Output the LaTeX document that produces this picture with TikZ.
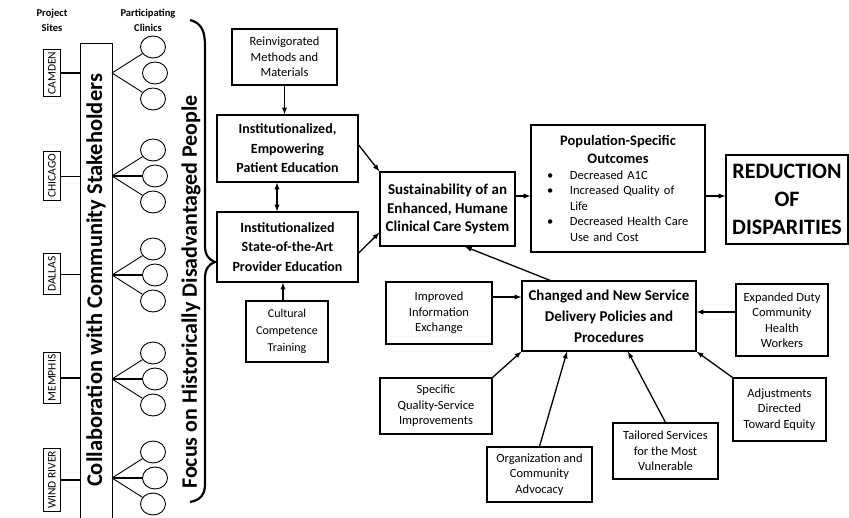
\documentclass[tikz,border=0pt]{standalone}
\usepackage{fontspec}
\setmainfont{Carlito}
\usepackage{tikz}
\usetikzlibrary{arrows,shapes.geometric}

\newcommand\fsz[2]{\fontsize{#1}{#2}\selectfont}
\newcommand\popline[2]{\par\noindent\hspace*{12pt}\makebox[23pt][l]{#1}#2}

\tikzset{
  smallbox/.style = {draw, line width=1.1, align=center, inner sep=2, font=\fsz{12.5}{15.5}},
  boldbox/.style = {draw, line width=1.3, align=center, inner sep=2, font=\bfseries\fsz{14}{19.5}},
  site/.style = {draw, line width=1, rotate=90, inner xsep=2.5, inner ysep=4.5, font=\fsz{11.5}{13}},
  clinic/.style = {draw, ellipse, line width=0.9, minimum width=25, minimum height=22, inner sep=0},
  arr/.style = {-latex, line width=1.3},
  thinline/.style = {line width=0.9},
  thickline/.style = {line width=2}
}

\begin{document}
\begin{tikzpicture}[x=1pt, y=-1pt]
				\useasboundingbox (0,0) rectangle (849,518);
				% left column: sites, stakeholders, clinics
				\node[align=center, font=\bfseries\fsz{10.5}{15}] (sitehead) at (52,20) {Project\\Sites};
				\node[align=center, font=\bfseries\fsz{10.5}{15}] (clinichead) at (148,20) {Participating\\Clinics};
				\node[draw, line width=0.9, rotate=90, minimum width=475, minimum height=32, inner sep=0, font=\bfseries\fsz{22.5}{26}] (collab) at (96,280.5) {Collaboration with Community Stakeholders};
				\node[site] (camden) at (52,73) {CAMDEN};
				\node[site] (chicago) at (52,176) {CHICAGO};
				\node[site] (dallas) at (52,274) {DALLAS};
				\node[site] (memphis) at (52,378) {MEMPHIS};
				\node[site] (windriver) at (52,480) {WIND RIVER};
				% rotated node: north is the left side
				\draw[thickline] (camden) -- (camden -| collab.north);
				\draw[thinline] (chicago) -- (chicago -| collab.north);
				\draw[thinline] (dallas) -- (dallas -| collab.north);
				\draw[thickline] (memphis) -- (memphis -| collab.north);
				\draw[thickline] (windriver) -- (windriver -| collab.north);
				\foreach \s/\y in {camden/73, chicago/176, dallas/275, memphis/379, windriver/478} {
					\coordinate (\s-ap) at (112,\y);
					\node[clinic] (\s1) at (153,\y-26) {};
					\node[clinic] (\s2) at (155,\y) {};
					\node[clinic] (\s3) at (153,\y+26) {};
					\draw[thinline] (\s-ap) -- (\s1);
					\draw[thinline] (\s-ap) -- (\s3);
				}
				\draw[thickline] (chicago-ap) -- (chicago2);
				\draw[thickline] (dallas-ap) -- (dallas2);
				\draw[thickline] (memphis-ap) -- (memphis2);
				\draw[thickline] (windriver-ap) -- (windriver2);
				% brace
				\draw[line width=2.2] (190,20) .. controls (202,23) and (205,32) .. (205,46) -- (205,246) .. controls (205,255) and (209,260) .. (215,262) .. controls (209,264) and (205,269) .. (205,278) -- (205,484) .. controls (205,494) and (201,500) .. (190,502);
				\node[rotate=90, font=\bfseries\fsz{22}{26}] (focus) at (191,292) {Focus on Historically Disadvantaged People};
				% education boxes
				\node[smallbox, minimum width=105, minimum height=56] (reinv) at (284.5,57) {Reinvigorated\\Methods and\\Materials};
				\node[boldbox, minimum width=141, minimum height=67] (emp) at (287.5,148.5) {Institutionalized,\\Empowering\\Patient Education};
				\node[boldbox, minimum width=141, minimum height=70] (prov) at (287.5,247) {Institutionalized\\State-of-the-Art\\Provider Education};
				\node[smallbox, minimum width=82, minimum height=61, font=\fsz{12}{17}] (cult) at (287,331.5) {Cultural\\Competence\\Training};
				\draw[arr] (reinv.south) -- (reinv.south |- emp.north);
				\draw[arr, latex-latex] ([xshift=-10.5pt]emp.south) -- ([xshift=-10.5pt]prov.north);
				\draw[arr] ([xshift=-4pt]cult.north) -- ([xshift=-4pt]cult.north |- prov.south);
				% outcomes
				\node[boldbox, minimum width=135, minimum height=74, font=\bfseries\fsz{15}{18.5}] (sust) at (447.5,209) {Sustainability of an\\Enhanced, Humane\\Clinical Care System};
				\node[draw, line width=1.3, inner sep=4, text width=166, minimum height=127, font=\fsz{12.5}{15.5}] (pop) at (618,188.5) {{\centering\bfseries\fsz{14.5}{18}Population-Specific\\Outcomes\par}
					\popline{\textbullet}{Decreased A1C}
					\popline{\textbullet}{Increased Quality of}
					\popline{}{Life}
					\popline{\textbullet}{Decreased Health Care}
					\popline{}{Use and Cost}\par};
				\node[boldbox, minimum width=122, minimum height=89, font=\bfseries\fsz{22}{28}] (reduc) at (787,199.5) {REDUCTION\\OF\\DISPARITIES};
				\draw[arr] ([yshift=3.5pt]emp.east) -- (sust.north west);
				\draw[arr] ([yshift=-6pt]prov.east) -- ([yshift=14pt]sust.south west);
				\draw[arr] ([yshift=13pt]sust.east) -- ([yshift=13pt]sust.east -| pop.west);
				\draw[arr] ([yshift=-7.5pt]pop.east) -- ([yshift=-7.5pt]pop.east -| reduc.west);
				% service delivery
				\node[boldbox, minimum width=174, minimum height=70, font=\bfseries\fsz{15}{21}] (chg) at (609,316) {Changed and New Service\\Delivery Policies and\\Procedures};
				\node[smallbox, minimum width=106, minimum height=62] (impr) at (439,313) {Improved\\Information\\Exchange};
				\node[smallbox, minimum width=92, minimum height=72] (expd) at (782,320) {Expanded Duty\\Community\\Health\\Workers};
				\node[smallbox, minimum width=112, minimum height=56] (spec) at (436,406) {Specific\\Quality-Service\\Improvements};
				\node[smallbox, minimum width=105, minimum height=55] (org) at (539.5,474.5) {Organization and\\Community\\Advocacy};
				\node[smallbox, minimum width=105, minimum height=56] (tail) at (665.5,451) {Tailored Services\\for the Most\\Vulnerable};
				\node[smallbox, minimum width=93, minimum height=63] (adj) at (779.5,409.5) {Adjustments\\Directed\\Toward Equity};
				\draw[arr] ([xshift=-59pt]chg.north) -- ([xshift=17.5pt]sust.south);
				\draw[arr] ([yshift=16pt]impr.east) -- ([yshift=16pt]impr.east -| chg.west);
				\draw[arr] ([yshift=8pt]expd.west) -- ([yshift=8pt]expd.west -| chg.east);
				\draw[arr] (spec.north east) -- (chg.south west);
				\draw[arr] (org.north) -- ([xshift=-42pt]chg.south);
				\draw[arr] (tail.north) -- ([xshift=19pt]chg.south);
				\draw[arr] (adj.north west) -- (chg.south east);
		\end{tikzpicture}
\end{document}
